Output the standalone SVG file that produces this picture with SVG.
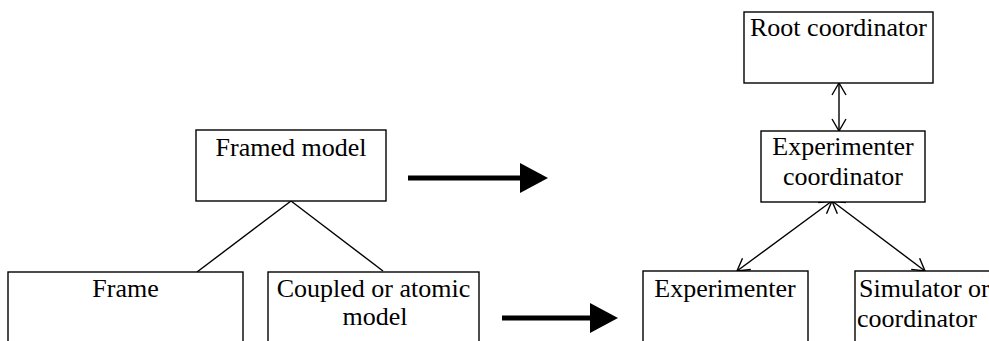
<svg xmlns="http://www.w3.org/2000/svg" width="989" height="341" viewBox="0 0 989 341">
<style>
.box{fill:#fff;stroke:#000;stroke-width:1.4}
.t{font-family:"Liberation Serif","Times New Roman",serif;font-size:26px;fill:#000}
.m{text-anchor:middle}
.ln{stroke:#000;stroke-width:1.4;fill:none}
.thin{stroke:#000;stroke-width:1.4;fill:none;marker-start:url(#open);marker-end:url(#open)}
.thick{stroke:#000;stroke-width:5;fill:none;marker-end:url(#solid)}
</style>
<defs>
<marker id="open" markerUnits="userSpaceOnUse" viewBox="-1 -1 14 16" refX="12" refY="7" markerWidth="14" markerHeight="16" orient="auto-start-reverse">
<path d="M0,0 L12,7 L0,14" fill="none" stroke="#000" stroke-width="1.4"/>
</marker>
<marker id="solid" markerUnits="userSpaceOnUse" viewBox="0 0 28 30" refX="1" refY="15" markerWidth="28" markerHeight="30" orient="auto">
<path d="M0,0 L28,15 L0,30 z" fill="#000"/>
</marker>
</defs>
<g id="connectors">
<line class="ln" x1="291" y1="201" x2="197" y2="272"/>
<line class="ln" x1="291" y1="201" x2="383" y2="271"/>
<line class="thick" x1="408" y1="178" x2="521" y2="178"/>
<line class="thick" x1="502" y1="318" x2="591" y2="318"/>
<line class="thin" x1="839" y1="83" x2="839" y2="131"/>
<line class="thin" x1="832" y1="201" x2="737" y2="271"/>
<line class="thin" x1="832" y1="201" x2="925" y2="271"/>
</g>
<g id="framed-model">
<rect class="box" x="196" y="130" width="190" height="71"/>
<text class="t m" x="291" y="156">Framed model</text>
</g>
<g id="frame">
<rect class="box" x="8" y="272" width="235" height="100"/>
<text class="t m" x="125.5" y="297">Frame</text>
</g>
<g id="coupled">
<rect class="box" x="268" y="272" width="211" height="100"/>
<text class="t m" x="373.5" y="297">Coupled or atomic</text>
<text class="t m" x="375" y="325">model</text>
</g>
<g id="root-coordinator">
<rect class="box" x="744" y="12" width="189" height="71"/>
<text class="t m" x="838.5" y="36">Root coordinator</text>
</g>
<g id="experimenter-coordinator">
<rect class="box" x="761" y="131" width="164" height="71"/>
<text class="t m" x="843" y="155">Experimenter</text>
<text class="t m" x="843" y="185">coordinator</text>
</g>
<g id="experimenter">
<rect class="box" x="643" y="271" width="165" height="100"/>
<text class="t m" x="725" y="297">Experimenter</text>
</g>
<g id="simulator">
<rect class="box" x="855" y="271" width="150" height="100"/>
<text class="t" x="859" y="297">Simulator or</text>
<text class="t" x="857" y="327">coordinator</text>
</g>
</svg>
